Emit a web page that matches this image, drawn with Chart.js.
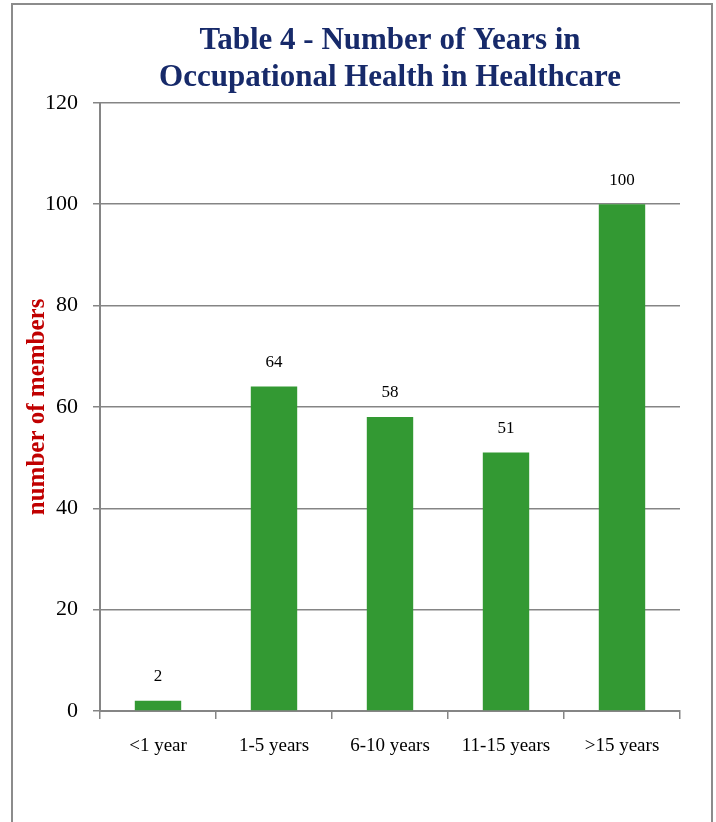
<!DOCTYPE html>
<html>
<head>
<meta charset="utf-8">
<script src="https://cdn.jsdelivr.net/npm/chart.js@4/dist/chart.umd.min.js"></script>
<style>
   body { margin: 0; background: #fff; }
   #wrap { position: relative; width: 716px; height: 822px; }
</style>
</head>
<body>
<div id="wrap"><canvas id="chart" width="716" height="822"></canvas></div>
<script>
// chart data
const categories = ["<1 year", "1-5 years", "6-10 years", "11-15 years", ">15 years"];
const members = [2, 64, 58, 51, 100];
const yTicks = [0, 20, 40, 60, 80, 100, 120];

const serif = "'Liberation Serif', 'DejaVu Serif', serif";
const gridGrey = "#858585";

// outer frame around the whole figure
const framePlugin = {
   id: "frame",
   beforeDraw: (chart) => {
      const ctx = chart.ctx;
      ctx.save();
      ctx.strokeStyle = "#8c8c8c";
      ctx.lineWidth = 2;
      ctx.strokeRect(12, 4, 700, 840);
      ctx.restore();
   },
};

// value labels above bars
const valueLabels = {
   id: "valueLabels",
   afterDatasetsDraw: (chart) => {
      const ctx = chart.ctx;
      const meta = chart.getDatasetMeta(0);
      ctx.save();
      ctx.font = "17px " + serif;
      ctx.fillStyle = "#000";
      ctx.textAlign = "center";
      ctx.textBaseline = "middle";
      meta.data.forEach((bar, i) => {
         ctx.fillText(String(members[i]), bar.x, bar.y - 24);
      });
      ctx.restore();
   },
};

const config = {
   type: "bar",
   data: {
      labels: categories,
      datasets: [
         {
            data: members,
            backgroundColor: "#339933",
            borderWidth: 0,
            barPercentage: 0.4,
            categoryPercentage: 1,
         },
      ],
   },
   options: {
      responsive: false,
      animation: false,
      layout: { padding: { left: 0, right: 36, top: 0, bottom: 0 } },
      plugins: {
         legend: { display: false },
         tooltip: { enabled: false },
         title: {
            display: true,
            fullSize: false,
            text: ["Table 4 - Number of Years in", "Occupational Health in Healthcare"],
            color: "#172a6a",
            font: { family: serif, size: 31, weight: "bold", lineHeight: 1.19 },
            padding: { top: 23, bottom: 6 },
         },
      },
      scales: {
         x: {
            grid: {
               drawOnChartArea: false,
               drawTicks: true,
               tickLength: 8,
               color: gridGrey,
               lineWidth: 1.5,
            },
            border: { color: gridGrey, width: 2 },
            ticks: {
               color: "#000",
               padding: 16,
               font: { family: serif, size: 19 },
            },
            afterFit: (scale) => {
               scale.height = 111;
            },
         },
         y: {
            min: 0,
            max: 120,
            afterBuildTicks: (scale) => {
               scale.ticks = yTicks.map((v) => ({ value: v }));
            },
            grid: {
               color: gridGrey,
               lineWidth: 1.5,
               drawTicks: true,
               tickLength: 7,
            },
            border: { color: gridGrey, width: 2 },
            ticks: {
               color: "#000",
               padding: 15,
               font: { family: serif, size: 22 },
            },
            title: {
               display: true,
               text: "number of members",
               color: "#c00000",
               font: { family: serif, size: 25, weight: "bold", lineHeight: 1.2 },
               padding: { top: 23, bottom: 0 },
            },
            afterFit: (scale) => {
               scale.width = 100;
            },
         },
      },
   },
   plugins: [framePlugin, valueLabels],
};

const myChart = new Chart(document.getElementById("chart"), config);
</script>
</body>
</html>
